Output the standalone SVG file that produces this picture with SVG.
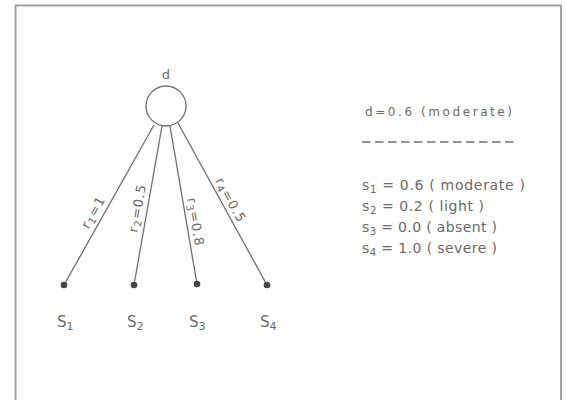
<svg xmlns="http://www.w3.org/2000/svg" width="566" height="400" viewBox="0 0 566 400">
<style>
  .t { font-family: "DejaVu Sans", "Liberation Sans", sans-serif; fill: #6a6a6a; }
  .edge { stroke: #707070; stroke-width: 1.3; fill: none; }
  .dot { fill: #444; }
</style>
<rect x="0" y="0" width="566" height="400" fill="#fefefe"/>
<path d="M15.5 410 V5.5 H561 V410" fill="none" stroke="#a0a0a0" stroke-width="2"/>
<g id="connectors">
  <line class="edge" x1="154" y1="125" x2="64" y2="285"/>
  <line class="edge" x1="162" y1="126" x2="134" y2="285"/>
  <line class="edge" x1="170" y1="126" x2="197" y2="284"/>
  <line class="edge" x1="178" y1="123" x2="267" y2="285"/>
  <text class="t" font-size="13" text-anchor="middle" dominant-baseline="central" transform="translate(93,212) rotate(-60.8)" letter-spacing="1">r<tspan font-size="10" dy="3">1</tspan><tspan dy="-3">=1</tspan></text>
  <text class="t" font-size="13" text-anchor="middle" dominant-baseline="central" transform="translate(137,208) rotate(-80)" letter-spacing="1">r<tspan font-size="10" dy="3">2</tspan><tspan dy="-3">=0.5</tspan></text>
  <text class="t" font-size="13" text-anchor="middle" dominant-baseline="central" transform="translate(196,222) rotate(80)" letter-spacing="1">r<tspan font-size="10" dy="3">3</tspan><tspan dy="-3">=0.8</tspan></text>
  <text class="t" font-size="13" text-anchor="middle" dominant-baseline="central" transform="translate(231,200) rotate(60.8)" letter-spacing="1">r<tspan font-size="10" dy="3">4</tspan><tspan dy="-3">=0.5</tspan></text>
</g>
<g id="d">
  <circle cx="166" cy="106" r="20" fill="none" stroke="#707070" stroke-width="1.3"/>
  <text class="t" x="166" y="79" font-size="13" text-anchor="middle">d</text>
</g>
<g id="s1">
  <circle class="dot" cx="64" cy="285" r="3.3"/>
  <text class="t" x="57" y="327" font-size="15">S<tspan font-size="11" dy="3">1</tspan></text>
</g>
<g id="s2">
  <circle class="dot" cx="134" cy="285" r="3.3"/>
  <text class="t" x="127" y="327" font-size="15">S<tspan font-size="11" dy="3">2</tspan></text>
</g>
<g id="s3">
  <circle class="dot" cx="197" cy="284" r="3.3"/>
  <text class="t" x="189" y="327" font-size="15">S<tspan font-size="11" dy="3">3</tspan></text>
</g>
<g id="s4">
  <circle class="dot" cx="267" cy="285" r="3.3"/>
  <text class="t" x="260" y="327" font-size="15">S<tspan font-size="11" dy="3">4</tspan></text>
</g>
<g id="legend">
  <text class="t" x="365" y="116" font-size="12" textLength="147" lengthAdjust="spacing">d=0.6 (moderate)</text>
  <line x1="362" y1="142" x2="515" y2="142" stroke="#707070" stroke-width="1.3" stroke-dasharray="8.5,4.5"/>
  <text class="t" x="362" y="190" font-size="14" textLength="163" lengthAdjust="spacing">s<tspan font-size="10" dy="3">1</tspan><tspan dy="-3"> = 0.6 ( moderate )</tspan></text>
  <text class="t" x="362" y="211" font-size="14" textLength="122" lengthAdjust="spacing">s<tspan font-size="10" dy="3">2</tspan><tspan dy="-3"> = 0.2 ( light )</tspan></text>
  <text class="t" x="362" y="232" font-size="14" textLength="135" lengthAdjust="spacing">s<tspan font-size="10" dy="3">3</tspan><tspan dy="-3"> = 0.0 ( absent )</tspan></text>
  <text class="t" x="362" y="253" font-size="14" textLength="135" lengthAdjust="spacing">s<tspan font-size="10" dy="3">4</tspan><tspan dy="-3"> = 1.0 ( severe )</tspan></text>
</g>
</svg>
